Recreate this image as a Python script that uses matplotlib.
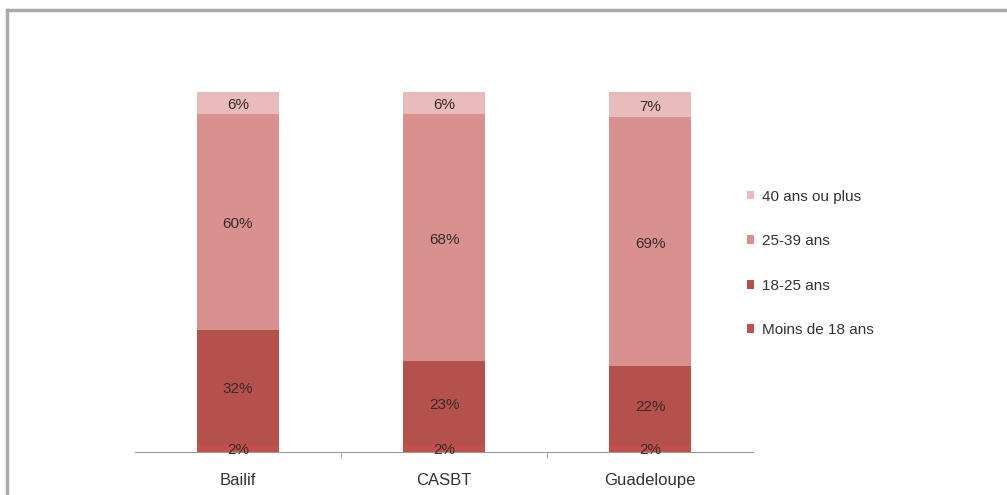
import matplotlib
matplotlib.use("Agg")
import matplotlib.pyplot as plt
from matplotlib.lines import Line2D
import numpy as np

categories = ["Bailif", "CASBT", "Guadeloupe"]
moins_18 = [2.0, 2.0, 2.0]
a18_25 = [32.0, 23.4, 22.0]
a25_39 = [60.0, 68.4, 69.0]
a40_plus = [6.0, 6.2, 7.0]

series = [moins_18, a18_25, a25_39, a40_plus]
names = ["Moins de 18 ans", "18-25 ans", "25-39 ans", "40 ans ou plus"]
colors = ["#C4504C", "#B5514C", "#D99190", "#E8BCBC"]

plt.rcParams["font.family"] = ["Liberation Sans", "DejaVu Sans"]

fig = plt.figure(figsize=(10.07, 4.95), dpi=100)
ax = fig.add_axes([0.134, 0.087, 0.614, 0.727])

x = np.arange(len(categories))
bottom = np.zeros(len(categories))
handles = []
for vals, name, col in zip(series, names, colors):
    bars = ax.bar(x, vals, 0.4, bottom=bottom, color=col, label=name)
    for xi, b, v in zip(x, bottom, vals):
        ax.text(xi, b + v / 2 - 0.6, f"{round(v)}%", ha="center", va="center",
                fontsize=11, color="#3a2a2a")
    bottom += np.array(vals)
    handles.append(bars)

ax.set_xlim(-0.5, 2.5)
ax.set_ylim(0, 100)
ax.set_xticks(x)
ax.set_xticklabels(categories, fontsize=12, color="#333333")
ax.set_xticks([0.5, 1.5], minor=True)
ax.tick_params(axis="x", which="major", length=0, pad=15)
ax.tick_params(axis="x", which="minor", length=4, color="#999999")
ax.set_yticks([])
for s in ["top", "right", "left"]:
    ax.spines[s].set_visible(False)
ax.spines["bottom"].set_color("#999999")

leg = fig.legend(handles[::-1], names[::-1], loc="center left",
                 bbox_to_anchor=(0.728, 0.468), frameon=False,
                 fontsize=11, handlelength=0.5, handleheight=0.5,
                 handletextpad=0.5, labelspacing=2.0)
for t in leg.get_texts():
    t.set_color("#333333")

# outer frame
fig.add_artist(Line2D([0.0065, 1.0], [0.979, 0.979], color="#aaaaaa", lw=2.5))
fig.add_artist(Line2D([0.0065, 0.0065], [0.0, 0.979], color="#aaaaaa", lw=2.5))

fig.savefig("out.png", dpi=100)
